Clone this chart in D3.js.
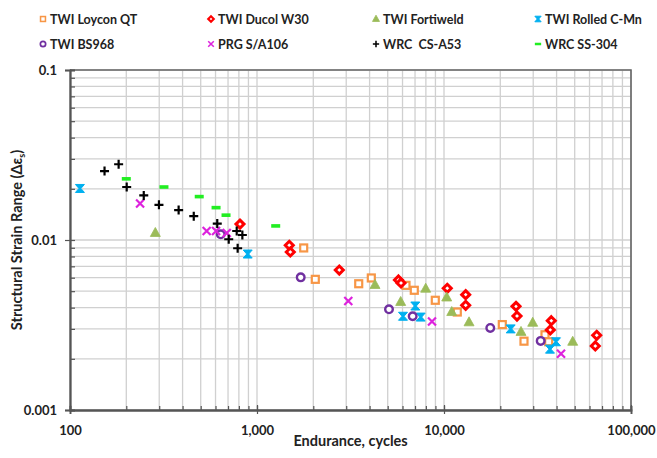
<!DOCTYPE html>
<html>
<head>
<meta charset="utf-8">
<script src="https://cdn.jsdelivr.net/npm/d3@7"></script>
<style>
  html, body { margin: 0; padding: 0; background: #fff; }
  svg { display: block; font-family: Lato, "Open Sans", sans-serif; }
</style>
</head>
<body>
<svg id="chart" width="657" height="458"></svg>
<script>
// Strain-life data: endurance (cycles) vs structural strain range
const loyconN = [1777, 2050, 3499, 4086, 6263, 6937, 8984, 11780, 20500, 26780, 34680, 36290];
const loyconS = [0.00898, 0.00587, 0.00553, 0.00598, 0.00541, 0.00506, 0.00442, 0.00377, 0.00318, 0.00254, 0.00277, 0.00252];

const ducolN = [811, 1488, 1507, 2755, 5710, 5890, 10410, 13060, 13060, 24270, 24570, 37480, 37020, 65550, 64430];
const ducolS = [0.0124, 0.00931, 0.0085, 0.00666, 0.00582, 0.00559, 0.0052, 0.00477, 0.00413, 0.00407, 0.00357, 0.00335, 0.00296, 0.00275, 0.00238];

const fortiN = [286, 4276, 5867, 7983, 10340, 11000, 13610, 25810, 29810, 48790];
const fortiS = [0.0110, 0.00544, 0.00432, 0.00517, 0.00459, 0.00377, 0.00328, 0.00288, 0.00326, 0.00252];

const rolledN = [113, 892, 6036, 7023, 7506, 22730, 39700, 36880];
const rolledS = [0.0201, 0.00827, 0.00356, 0.00409, 0.00352, 0.0030, 0.00252, 0.00228];

const bs968N = [640, 1713, 5080, 6800, 17680, 32890];
const bs968S = [0.0108, 0.00603, 0.00391, 0.00356, 0.00304, 0.00255];

const prgN = [237, 538, 604, 689, 3077, 8626, 42250];
const prgS = [0.0164, 0.0113, 0.0113, 0.0110, 0.00438, 0.00332, 0.00214];

const wrcCsN = [153, 182, 201, 248, 299, 381, 459, 613, 779, 835, 706, 788];
const wrcCsS = [0.02545, 0.0279, 0.0205, 0.0183, 0.0161, 0.0150, 0.0138, 0.0125, 0.0113, 0.0107, 0.0101, 0.00894];

const wrcSsN = [200, 318, 491, 604, 683, 1259];
const wrcSsS = [0.0229, 0.0205, 0.0180, 0.0155, 0.0140, 0.0121];

const seriesNames = ["TWI Loycon QT", "TWI Ducol W30", "TWI Fortiweld", "TWI Rolled C-Mn",
                     "TWI BS968", "PRG S/A106", "WRC  CS-A53", "WRC SS-304"];
const xTickLabels = ["100", "1,000", "10,000", "100,000"];
const yTickLabels = ["0.001", "0.01", "0.1"];

const series = [
  { name: seriesNames[0], n: loyconN, s: loyconS, color: "#F79646", shape: "square" },
  { name: seriesNames[1], n: ducolN,  s: ducolS,  color: "#FF0000", shape: "diamond" },
  { name: seriesNames[2], n: fortiN,  s: fortiS,  color: "#9BBB59", shape: "triangle" },
  { name: seriesNames[3], n: rolledN, s: rolledS, color: "#00B0F0", shape: "hourglass" },
  { name: seriesNames[4], n: bs968N,  s: bs968S,  color: "#7030A0", shape: "circle" },
  { name: seriesNames[5], n: prgN,    s: prgS,    color: "#DD22DD", shape: "cross" },
  { name: seriesNames[6], n: wrcCsN,  s: wrcCsS,  color: "#000000", shape: "plus" },
  { name: seriesNames[7], n: wrcSsN,  s: wrcSsS,  color: "#22EE22", shape: "dash" }
];

const svg = d3.select("#chart");
const L = 70, R = 631, T = 70, B = 410;

const x = d3.scaleLog().domain([100, 100000]).range([L, R]);
const y = d3.scaleLog().domain([0.001, 0.1]).range([B, T]);

const xMajor = [100, 1000, 10000, 100000];
const yMajor = [0.001, 0.01, 0.1];
const xAll = x.ticks();
const yAll = y.ticks();

// Grid lines
const grid = svg.append("g").attr("stroke", "#D0D0D0").attr("stroke-width", 1.3);
grid.selectAll("line.gx").data(xAll).join("line")
  .attr("x1", d => x(d)).attr("x2", d => x(d)).attr("y1", T).attr("y2", B);
grid.selectAll("line.gy").data(yAll).join("line")
  .attr("y1", d => y(d)).attr("y2", d => y(d)).attr("x1", L).attr("x2", R);

// Plot frame (top and right)
svg.append("path")
  .attr("d", `M${L},${T}H${R}V${B}`)
  .attr("fill", "none").attr("stroke", "#666").attr("stroke-width", 1.6);

// Axes: minor ticks inward, major ticks crossing with labels
const axisColor = "#555";
function styleAxis(g) {
  g.select(".domain").attr("stroke", axisColor).attr("stroke-width", 1.8);
  g.selectAll(".tick line").attr("stroke", axisColor).attr("stroke-width", 1.2);
}

const xMinorAxis = d3.axisBottom(x).tickValues(xAll).tickSize(-4).tickFormat("");
const xMajorAxis = d3.axisBottom(x).tickValues(xMajor).tickSize(4).tickPadding(12)
  .tickFormat((d, i) => xTickLabels[i]);
svg.append("g").attr("transform", `translate(0,${B})`).call(xMinorAxis).call(styleAxis);
const gx = svg.append("g").attr("transform", `translate(0,${B})`).call(xMajorAxis).call(styleAxis);
gx.selectAll(".tick line").attr("y1", -5);

const yMinorAxis = d3.axisLeft(y).tickValues(yAll).tickSize(-5).tickFormat("");
const yMajorAxis = d3.axisLeft(y).tickValues(yMajor).tickSize(5).tickPadding(8)
  .tickFormat((d, i) => yTickLabels[i]);
svg.append("g").attr("transform", `translate(${L},0)`).call(yMinorAxis).call(styleAxis);
svg.append("g").attr("transform", `translate(${L},0)`).call(yMajorAxis).call(styleAxis);

svg.selectAll(".tick text")
  .attr("font-family", "Lato, 'Open Sans', sans-serif")
  .attr("font-size", 13).attr("font-weight", 700).attr("fill", "#222");

// Marker drawing
function drawMarker(g, shape, color, k) {
  k = k || 1;
  switch (shape) {
    case "square":
      g.append("rect").attr("x", -3.5 * k).attr("y", -3.5 * k)
        .attr("width", 7 * k).attr("height", 7 * k)
        .attr("fill", "#fff").attr("stroke", color).attr("stroke-width", 2.2 * k);
      break;
    case "diamond":
      g.append("path").attr("d", `M0,${-4 * k}L${4 * k},0L0,${4 * k}L${-4 * k},0Z`)
        .attr("fill", "#fff").attr("stroke", color).attr("stroke-width", 3 * k);
      break;
    case "triangle":
      g.append("path").attr("d", `M0,${-5.5 * k}L${5 * k},${3.5 * k}L${-5 * k},${3.5 * k}Z`)
        .attr("fill", color).attr("stroke", color).attr("stroke-width", 0.8);
      break;
    case "hourglass":
      g.append("path").attr("d",
        `M${-4.5 * k},${-4 * k}L${4.5 * k},${-4 * k}L${1 * k},0L${4.5 * k},${4 * k}L${-4.5 * k},${4 * k}L${-1 * k},0Z`)
        .attr("fill", color).attr("stroke", color).attr("stroke-width", 1);
      break;
    case "circle":
      g.append("circle").attr("r", 3.8 * k)
        .attr("fill", "#fff").attr("stroke", color).attr("stroke-width", 2.4 * k);
      break;
    case "cross":
      g.append("path").attr("d", `M${-4 * k},${-4 * k}L${4 * k},${4 * k}M${4 * k},${-4 * k}L${-4 * k},${4 * k}`)
        .attr("stroke", color).attr("stroke-width", 2.2 * k);
      break;
    case "plus":
      g.append("path").attr("d", `M${-4.5 * k},0H${4.5 * k}M0,${-4.5 * k}V${4.5 * k}`)
        .attr("stroke", color).attr("stroke-width", 2.2 * k);
      break;
    case "dash":
      g.append("rect").attr("x", -4.5 * k).attr("y", -1.8 * k)
        .attr("width", 9 * k).attr("height", 3.6 * k).attr("fill", color);
      break;
  }
}

// Data points
const plot = svg.append("g");
series.forEach(sr => {
  const pts = sr.n.map((v, i) => [v, sr.s[i]]);
  plot.append("g").selectAll("g").data(pts).join("g")
    .attr("transform", d => `translate(${x(d[0])},${y(d[1])})`)
    .each(function () { drawMarker(d3.select(this), sr.shape, sr.color, 1); });
});

// Legend
const legX = [43, 211, 376, 538];
const legY = [19, 44];
const legend = svg.append("g");
series.forEach((sr, i) => {
  const col = i % 4, row = Math.floor(i / 4);
  const g = legend.append("g").attr("transform", `translate(${legX[col]},${legY[row]})`);
  drawMarker(g, sr.shape, sr.color, 0.7);
  g.append("text").attr("x", 7).attr("y", 4.5)
    .attr("font-size", 12.5).attr("font-weight", 700).attr("fill", "#222")
    .style("white-space", "pre")
    .text(sr.name);
});

// Axis titles
svg.append("text")
  .attr("x", (L + R) / 2).attr("y", 446)
  .attr("text-anchor", "middle").attr("font-size", 14.5).attr("font-weight", 700).attr("fill", "#222")
  .text("Endurance, cycles");

const yt = svg.append("text")
  .attr("transform", `translate(22,${(T + B) / 2}) rotate(-90)`)
  .attr("text-anchor", "middle").attr("font-size", 14.5).attr("font-weight", 700).attr("fill", "#222");
yt.append("tspan").text("Structural Strain Range (Δε");
yt.append("tspan").attr("font-size", 9).attr("dy", 3).text("s");
yt.append("tspan").attr("dy", -3).text(")");
</script>
</body>
</html>
